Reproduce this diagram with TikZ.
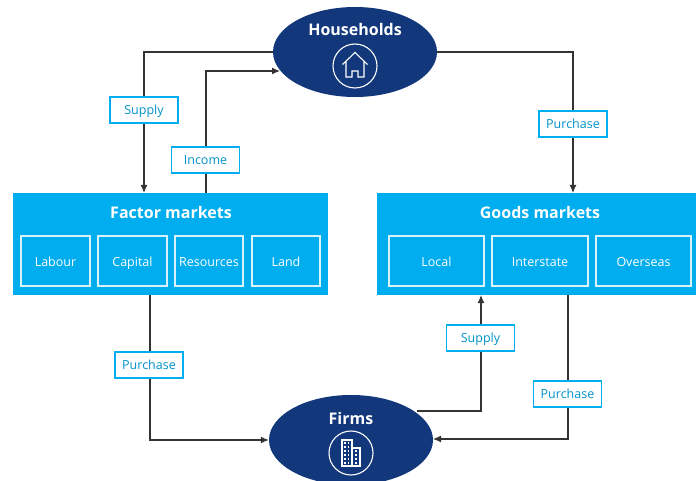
\documentclass[tikz,border=0pt]{standalone}
\usepackage{fontspec}
\setmainfont{Open Sans}
\usetikzlibrary{shapes.geometric,arrows.meta}
\definecolor{navy}{HTML}{12377B}
\definecolor{cyanbox}{HTML}{00ADEE}
\definecolor{wire}{HTML}{333333}
\tikzset{
  oval/.style={ellipse,fill=navy,inner sep=0pt,minimum width=164pt,minimum height=90pt},
  market/.style={fill=cyanbox,inner sep=0pt},
  cell/.style={draw=white!85!cyanbox,line width=1.1pt,inner sep=0pt,minimum height=50pt,text height=11pt,text depth=0pt,text=white,font=\fontsize{12.5}{14}\selectfont},
  tag/.style={draw=cyanbox,fill=white,line width=1.3pt,text=cyanbox!85!black,inner sep=0pt,minimum width=68pt,minimum height=26pt,text height=10pt,text depth=1pt,font=\fontsize{12.5}{14}\selectfont},
  wirepath/.style={draw=wire,line width=1.2pt},
  arrowpath/.style={wirepath,-{Latex[length=8pt,width=7pt]}},
  title/.style={text=white,font=\fontsize{16}{18}\selectfont\bfseries,inner sep=0pt},
  glyph/.style={draw=white,line width=1.1pt,line join=miter}
}
\begin{document}
\begin{tikzpicture}[x=1pt,y=-1pt]
\useasboundingbox (0,0) rectangle (696,481);
\clip (0,0) rectangle (696,481);
% markets
\node[market,minimum width=315pt,minimum height=102pt] (factor) at (170.5,244) {};
\node[market,minimum width=319pt,minimum height=102pt] (goods) at (536.5,244) {};
\node[title] (factort) at (171,212.5) {Factor markets};
\node[title] (goodst) at (540,212.5) {Goods markets};
\node[cell,minimum width=69pt] (labour) at (55.5,261) {Labour};
\node[cell,minimum width=69pt] (capital) at (132.5,261) {Capital};
\node[cell,minimum width=68pt] (resources) at (209,261) {Resources};
\node[cell,minimum width=68pt] (land) at (286,261) {Land};
\node[cell,minimum width=95pt] (local) at (436.5,261) {Local};
\node[cell,minimum width=96pt] (interstate) at (540,261) {Interstate};
\node[cell,minimum width=95pt] (overseas) at (643.5,261) {Overseas};
% ovals
\node[oval] (hh) at (355,52) {};
\node[oval] (firms) at (351,440) {};
% connector corners
\coordinate (hhL) at (144,52);
\coordinate (factorIn) at (144,193);
\coordinate (factorOut) at (206,193);
\coordinate (incC) at (206,71);
\coordinate (hhIn) at (280,71);
\coordinate (hhR) at (573,52);
\coordinate (goodsIn) at (573,193);
\coordinate (factorB) at (150,295);
\coordinate (facC) at (150,440);
\coordinate (firmOut) at (417,411);
\coordinate (supC) at (481,411);
\coordinate (goodsB1) at (481,295);
\coordinate (goodsB2) at (568,295);
\coordinate (purC) at (568,439);
\coordinate (firmIn) at (433,439);
% connectors
\draw[arrowpath] (hh.west) -- (hhL) -- (factorIn);
\draw[arrowpath] (factorOut) -- (incC) -- (hhIn);
\draw[arrowpath] (hh.east) -- (hhR) -- (goodsIn);
\draw[arrowpath] (factorB) -- (facC) -- (firms.west);
\draw[arrowpath] (firmOut) -- (supC) -- (goodsB1);
\draw[arrowpath] (goodsB2) -- (purC) -- (firmIn);
% tags
\node[tag] (t1) at (144,110) {Supply};
\node[tag] (t2) at (205.5,160) {Income};
\node[tag] (t3) at (573,124) {Purchase};
\node[tag] (t4) at (149,365) {Purchase};
\node[tag] (t5) at (480.5,338) {Supply};
\node[tag] (t6) at (567.5,394) {Purchase};
% oval text
\node[title] (hht) at (355,30) {Households};
\node[title] (firmst) at (351,418) {Firms};
% house icon
\draw[white,line width=1.1pt] (355,66) circle (22);
\draw[glyph] (342.5,64.5) -- (355,52.5) -- (367.5,64.5)
  (346,61.5) -- (346,77) -- (352,77) -- (352,71) -- (358,71) -- (358,77) -- (364,77) -- (364,61.5);
% firm icon
\draw[white,line width=1.1pt] (351,453) circle (22);
\draw[glyph] (342,466) -- (342,440) -- (352,440) -- (352,466) -- cycle
  (352,448) -- (360,448) -- (360,466) -- (352,466);
\foreach \yy in {443,447,451,455,459,463}{
  \fill[white] (344.2,\yy-0.7) rectangle +(1.4,1.4);
  \fill[white] (348,\yy-0.7) rectangle +(1.4,1.4);
}
\foreach \yy in {451,455,459,463}{
  \fill[white] (355.3,\yy-0.7) rectangle +(1.4,1.4);
}
\end{tikzpicture}
\end{document}
